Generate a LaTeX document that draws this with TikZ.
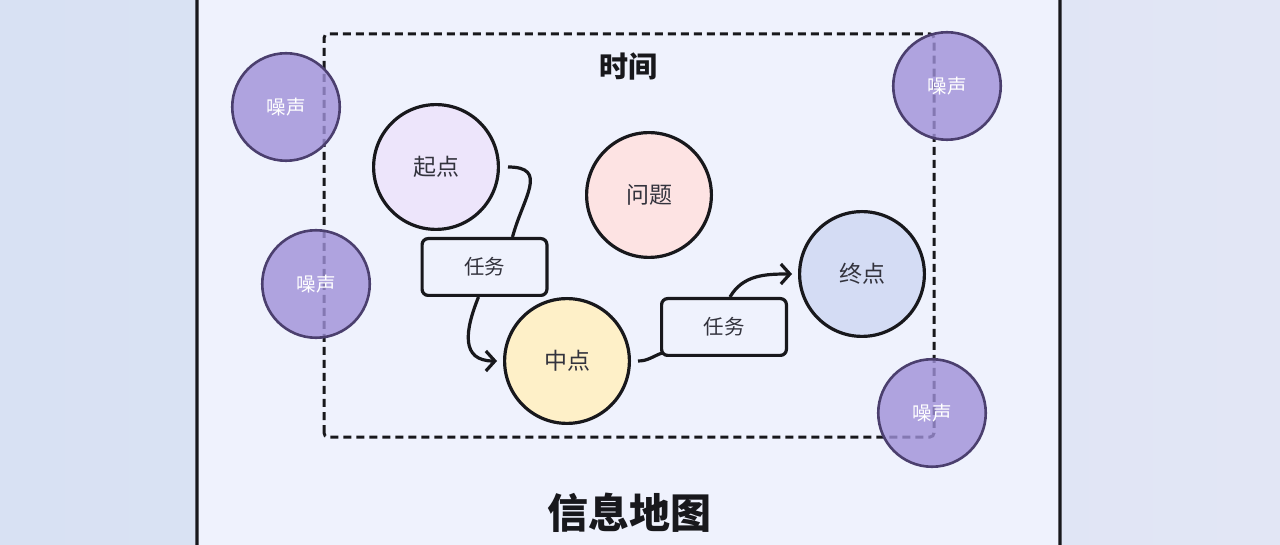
\documentclass[tikz,border=0pt]{standalone}
\usepackage{fontspec}
\newfontfamily\cjk{Noto Sans CJK SC}
\usetikzlibrary{arrows.meta}

\definecolor{bgleft}{HTML}{D8E1F3}
\definecolor{bgright}{HTML}{E2E6F5}
\definecolor{cardfill}{HTML}{EFF2FD}
\definecolor{linecol}{HTML}{18181C}
\definecolor{textcol}{HTML}{33333D}
\definecolor{startfill}{HTML}{EDE5FB}
\definecolor{problemfill}{HTML}{FDE3E3}
\definecolor{midfill}{HTML}{FEF0C8}
\definecolor{stopfill}{HTML}{D4DCF4}
\definecolor{noisefill}{HTML}{9F90D8}
\definecolor{noiseline}{HTML}{4B3F6E}

\tikzset{
    bubble/.style={circle,draw=linecol,line width=3.2pt,minimum size=124.8pt,
        inner sep=0pt,text=textcol,font=\cjk\fontsize{23pt}{26pt}\selectfont},
    noise/.style={circle,draw=noiseline,line width=2.6pt,fill=noisefill,
        fill opacity=0.8,draw opacity=1,text opacity=1,minimum size=107.5pt,inner sep=0pt,
        text=white,font=\cjk\fontsize{19.5pt}{22pt}\selectfont},
    taskbox/.style={rectangle,rounded corners=6pt,draw=linecol,line width=3.2pt,
        fill=cardfill,minimum width=124.8pt,minimum height=56.8pt,text=textcol,
        font=\cjk\fontsize{20.5pt}{24pt}\selectfont},
    conn/.style={draw=linecol,line width=3.2pt},
    arr/.style={conn,-{Straight Barb[length=9pt,width=20pt]}}
}

\begin{document}
\begin{tikzpicture}[x=1pt,y=1pt]

    % Sfondo e scheda
    \useasboundingbox (0,0) rectangle (1280,544);
    \shade[left color=bgleft,right color=bgright] (0,0) rectangle (1280,544);
    \draw[line width=3.2pt,draw=linecol,fill=cardfill,rounded corners=12pt]
        (197,-14) rectangle (1060,560);

    % Riquadro tratteggiato del tempo
    \draw[line width=3pt,draw=linecol,dash pattern=on 8pt off 5pt,rounded corners=4pt]
        (324,107) rectangle (934,510);
    \node[font=\cjk\bfseries\fontsize{29pt}{32pt}\selectfont,text=linecol]
        (time) at (628,478) {时间};

    % Rumore
    \foreach \px/\py [count=\i] in {286/437, 316/260, 947/458, 932/131}{
        \node[noise] (noise\i) at (\px,\py) {噪声};
    }

    % Punti
    \node[bubble,fill=startfill]   (start)   at (436,377) {起点};
    \node[bubble,fill=problemfill] (problem) at (649,349) {问题};
    \node[bubble,fill=midfill]     (mid)     at (567,183) {中点};
    \node[bubble,fill=stopfill]    (stop)    at (862,270) {终点};

    % Compiti
    \node[taskbox] (task1) at (484.5,277) {任务};
    \node[taskbox] (task2) at (724,217) {任务};

    % Collegamenti
    \draw[conn] ([xshift=8pt]start.east) to[out=0,in=75,looseness=1.5] ([xshift=28pt]task1.north);
    \draw[arr] ([xshift=-6pt]task1.south) to[out=-112,in=180,looseness=1.4] ([xshift=-6pt]mid.west);
    \draw[conn] ([xshift=7pt]mid.east) to[out=0,in=200] ([xshift=2pt,yshift=4pt]task2.south west);
    \draw[arr] ([xshift=6pt]task2.north) to[out=60,in=180] ([xshift=-6pt]stop.west);

    % Titolo
    \node[font=\cjk\bfseries\fontsize{41pt}{44pt}\selectfont,text=linecol]
        (title) at (629,31) {信息地图};

\end{tikzpicture}
\end{document}
